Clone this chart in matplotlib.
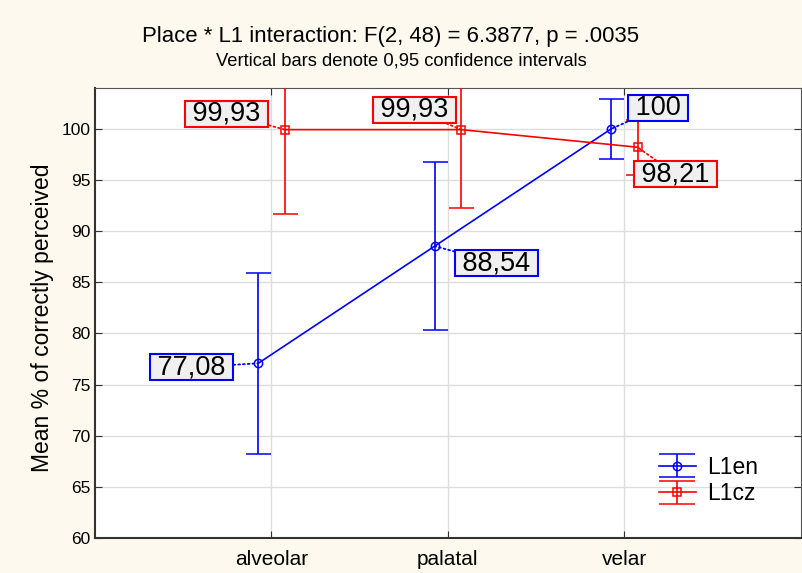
import numpy as np
import matplotlib.pyplot as plt

plt.rcParams['font.family'] = ['Liberation Sans', 'DejaVu Sans']

places = ['alveolar', 'palatal', 'velar']
en_mean = [77.08, 88.54, 100.0]
en_low = [68.2, 80.3, 97.1]
en_high = [85.9, 96.8, 102.9]
cz_mean = [99.93, 99.93, 98.21]
cz_low = [91.7, 92.3, 95.5]
cz_high = [108.1, 107.5, 100.9]
en_labels = ['77,08', '88,54', '100']
cz_labels = ['99,93', '99,93', '98,21']
# label offsets in pixels (box centre relative to point)
en_off = [(-67, -4), (62, -17), (47, 21)]
cz_off = [(-58, 16), (-47, 20), (38, -27)]

x = np.arange(1, len(places) + 1)
xe = x - 0.075
xc = x + 0.075

fig = plt.figure(figsize=(8.02, 5.73), dpi=100, facecolor='#fdf9ef')
ax = fig.add_axes([0.1185, 0.0611, 0.880, 0.7853])

en = np.array(en_mean)
cz = np.array(cz_mean)
style = dict(lw=1.2, mfc='none', mew=1.1, ms=6, capthick=1.2, elinewidth=1.2, zorder=3)
ax.errorbar(xe, en, yerr=[en - np.array(en_low), np.array(en_high) - en],
            color='#0000ff', marker='o', capsize=9, **style)
ax.errorbar(xc, cz, yerr=[cz - np.array(cz_low), np.array(cz_high) - cz],
            color='#ff0000', marker='s', capsize=9, **style)

# legend proxies with wide caps
h1 = ax.errorbar([np.nan], [np.nan], yerr=[[1], [1]], color='#0000ff', marker='o',
                 capsize=13, label='L1en', **style)
h2 = ax.errorbar([np.nan], [np.nan], yerr=[[1], [1]], color='#ff0000', marker='s',
                 capsize=13, label='L1cz', **style)

for xs, ys, labs, offs, col in [(xe, en, en_labels, en_off, '#0000ff'),
                                (xc, cz, cz_labels, cz_off, '#ff0000')]:
    for xi, yi, lab, (dx, dy) in zip(xs, ys, labs, offs):
        ax.annotate(' ' + lab + ' ', (xi, yi), xytext=(dx, dy), textcoords='offset pixels',
                    ha='center', va='center', fontsize=19.5, zorder=5,
                    bbox=dict(boxstyle='square,pad=0', fc='#f0f0f0', ec=col, lw=1.5),
                    arrowprops=dict(arrowstyle='-', ls=':', color=col, lw=1.3,
                                    shrinkA=0, shrinkB=0))

ax.set_xlim(0, 4)
ax.set_ylim(60, 104)
ax.set_xticks(x)
ax.set_xticklabels(places, fontsize=15)
ax.set_yticks(np.arange(60, 101, 5))
ax.tick_params(axis='y', labelsize=12.5)
ax.tick_params(axis='x', pad=9)
ax.tick_params(direction='in', top=True, right=True, length=5, color='#333333')
ax.grid(True, color='#dddddd', lw=1)
ax.set_axisbelow(True)
for s in ['left', 'bottom']:
    ax.spines[s].set_linewidth(1.5)
    ax.spines[s].set_color('#333333')
for s in ['top', 'right']:
    ax.spines[s].set_color('#555555')
ax.set_ylabel('Mean % of correctly perceived', fontsize=16.5)
ax.yaxis.set_label_coords(-0.058, 0.49)

fig.text(0.487, 0.936, 'Place * L1 interaction: F(2, 48) = 6.3877, p = .0035',
         ha='center', va='center', fontsize=15.9)
fig.text(0.501, 0.893, 'Vertical bars denote 0,95 confidence intervals',
         ha='center', va='center', fontsize=13.2)

ax.legend(handles=[h1, h2], loc='center left', bbox_to_anchor=(0.783, 0.128),
          frameon=False, fontsize=16.5, handlelength=1.6, handletextpad=0.5,
          labelspacing=0.15, borderpad=0)

fig.savefig('out.png', dpi=100, facecolor=fig.get_facecolor())
